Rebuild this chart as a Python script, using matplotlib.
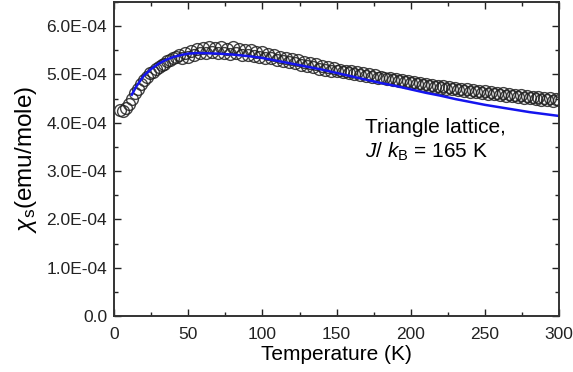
import matplotlib
matplotlib.use('Agg')
import matplotlib.pyplot as plt
from matplotlib.ticker import MultipleLocator, FuncFormatter
import numpy as np

plt.rcParams['font.family'] = ['Liberation Sans', 'DejaVu Sans']
plt.rcParams['mathtext.fontset'] = 'custom'
plt.rcParams['mathtext.rm'] = 'Liberation Sans'
plt.rcParams['mathtext.it'] = 'Liberation Sans:italic'

# measured susceptibility (units of 1e-4 emu/mole), T = 4, 6, ..., 300 K
temp = np.arange(4, 301, 2)
chi_meas = [
    4.27, 4.25, 4.30, 4.38, 4.50, 4.62, 4.70, 4.80, 4.88, 4.95,
    5.02, 5.05, 5.12, 5.15, 5.20, 5.22, 5.28, 5.30, 5.33, 5.35,
    5.40, 5.34, 5.44, 5.37, 5.49, 5.41, 5.53, 5.44, 5.55, 5.45,
    5.56, 5.46, 5.54, 5.44, 5.56, 5.45, 5.52, 5.43, 5.56, 5.44,
    5.52, 5.41, 5.50, 5.40, 5.50, 5.38, 5.47, 5.35, 5.46, 5.34,
    5.42, 5.33, 5.40, 5.30, 5.37, 5.28, 5.34, 5.25, 5.32, 5.23,
    5.29, 5.20, 5.26, 5.17, 5.24, 5.15, 5.21, 5.12, 5.18, 5.10,
    5.16, 5.08, 5.13, 5.06, 5.10, 5.04, 5.08, 5.03, 5.06, 5.01,
    5.04, 4.99, 5.02, 4.97, 5.00, 4.95, 4.98, 4.93, 4.94, 4.92,
    4.90, 4.92, 4.88, 4.90, 4.86, 4.88, 4.84, 4.86, 4.82, 4.84,
    4.80, 4.82, 4.78, 4.80, 4.76, 4.79, 4.74, 4.77, 4.72, 4.75,
    4.70, 4.73, 4.69, 4.72, 4.67, 4.70, 4.66, 4.69, 4.64, 4.68,
    4.63, 4.66, 4.62, 4.65, 4.60, 4.63, 4.59, 4.62, 4.57, 4.61,
    4.56, 4.59, 4.55, 4.58, 4.53, 4.57, 4.52, 4.56, 4.51, 4.54,
    4.49, 4.53, 4.48, 4.52, 4.47, 4.51, 4.46, 4.49, 4.47,
]

# triangle lattice model curve, J/kB = 165 K
temp_fit = [12, 15, 20, 25, 30, 35, 40, 45, 50, 55, 60, 70, 80, 90, 100,
            110, 120, 130, 140, 150, 160, 170, 180, 190, 200, 210, 220,
            230, 240, 250, 260, 270, 280, 290, 300]
chi_fit = [4.58, 4.75, 4.97, 5.11, 5.22, 5.30, 5.36, 5.40, 5.43, 5.44, 5.44,
           5.43, 5.41, 5.38, 5.34, 5.28, 5.22, 5.16, 5.10, 5.03, 4.96, 4.89,
           4.82, 4.76, 4.69, 4.62, 4.56, 4.49, 4.43, 4.37, 4.32, 4.27, 4.22,
           4.18, 4.14]

fig = plt.figure(figsize=(5.73, 3.72), dpi=100)
ax = fig.add_axes([0.199, 0.150, 0.777, 0.845])

ax.plot(temp, np.array(chi_meas) * 1e-4, 'o', mfc='none', mec='#222222',
        ms=8.5, mew=1.0, alpha=0.85)
ax.plot(temp_fit, np.array(chi_fit) * 1e-4, '-', color='#1515ee', lw=1.8)

ax.set_xlim(0, 300)
ax.set_ylim(0, 6.5e-4)
ax.xaxis.set_major_locator(MultipleLocator(50))
ax.xaxis.set_minor_locator(MultipleLocator(25))
ax.yaxis.set_major_locator(MultipleLocator(1e-4))
ax.yaxis.set_minor_locator(MultipleLocator(0.5e-4))

def yfmt(v, pos):
    if abs(v) < 1e-12:
        return '0.0'
    m, e = ('%.1E' % v).split('E')
    return m + 'E' + e[0] + e[1:].zfill(2)

ax.yaxis.set_major_formatter(FuncFormatter(yfmt))
ax.tick_params(which='both', direction='in', top=True, right=True,
               labelsize=12.5, width=1.0, colors='#222222')
ax.tick_params(which='major', length=5)
ax.tick_params(axis='x', which='major', pad=8)
ax.tick_params(axis='y', which='major', pad=5)
ax.tick_params(which='minor', length=3)
for s in ax.spines.values():
    s.set_linewidth(1.4)
    s.set_color('#333333')

ax.set_xlabel('Temperature (K)', fontsize=15, labelpad=2)
ax.set_ylabel(r'$\chi_{\rm s}$(emu/mole)', fontsize=17.5, labelpad=5)

ax.text(0.564, 0.583, 'Triangle lattice,', transform=ax.transAxes,
        fontsize=15, va='baseline')
ax.text(0.564, 0.503, r'$J$/ $k_{\rm B}$ = 165 K', transform=ax.transAxes,
        fontsize=15, va='baseline')

fig.savefig('out.png', dpi=100)
